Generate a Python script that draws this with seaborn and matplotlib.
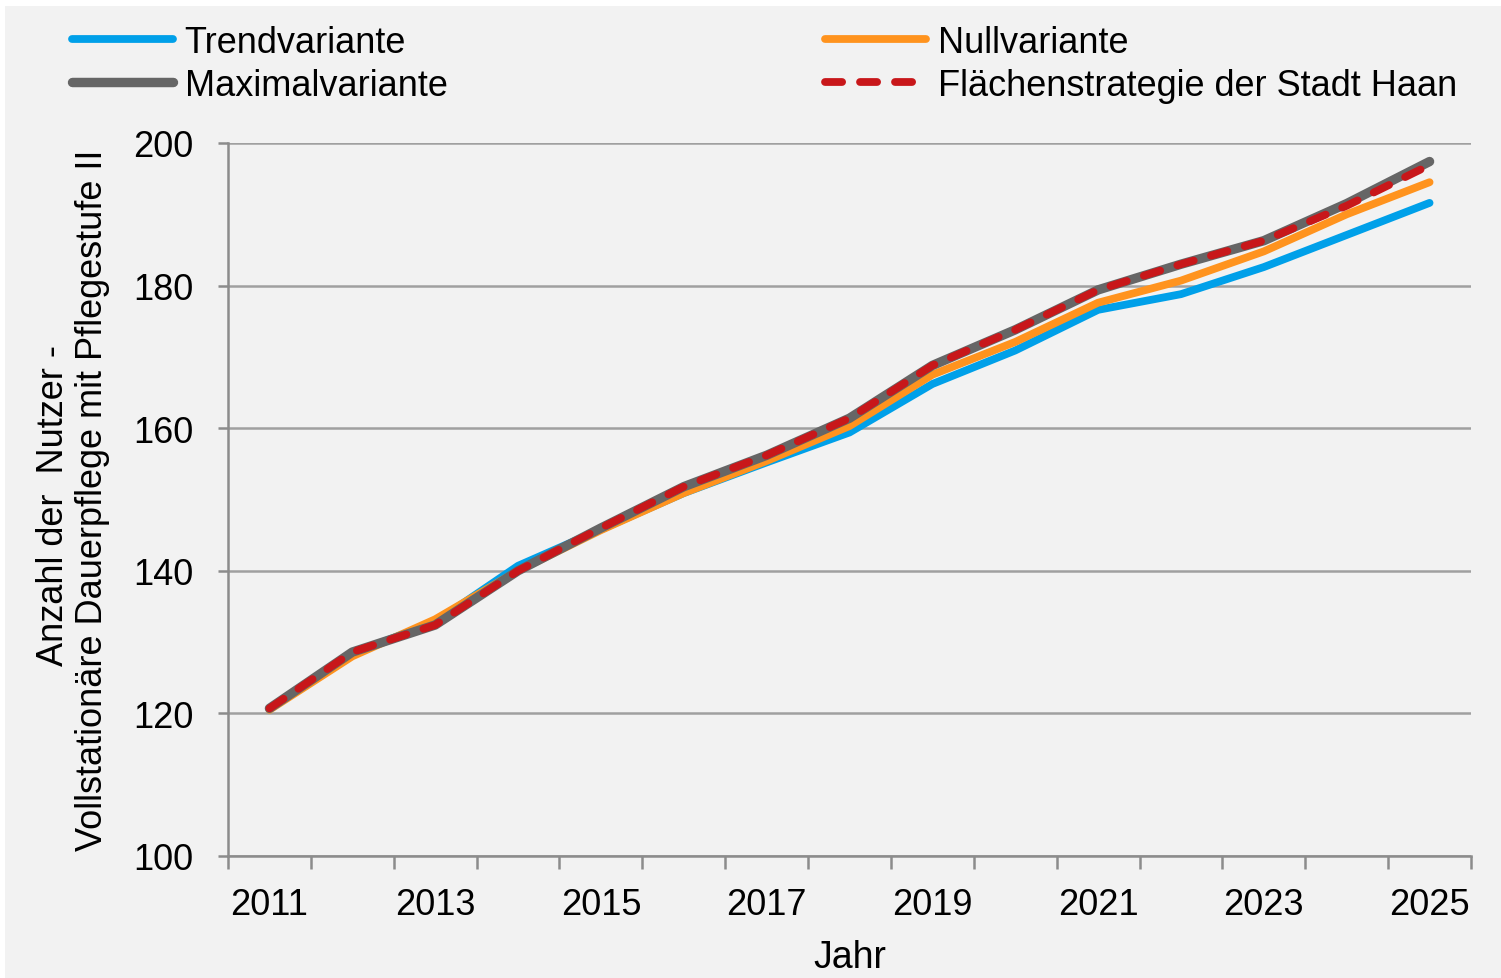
import numpy as np
import pandas as pd
import matplotlib
matplotlib.use("Agg")
import matplotlib.pyplot as plt
from matplotlib.patches import Rectangle
from matplotlib.ticker import FixedLocator
import seaborn as sns

# data
years = list(range(2011, 2026))
trend = [120.7, 128.4, 132.8, 140.7, 145.8, 150.9, 155.2, 159.4, 166.2, 170.9,
         176.6, 178.8, 182.6, 187.1, 191.6]
null = [120.5, 128.0, 133.2, 140.0, 145.7, 150.9, 155.4, 160.3, 167.5, 172.1,
        177.6, 180.7, 184.8, 190.0, 194.5]
maximal = [120.7, 128.6, 132.4, 140.0, 146.0, 151.8, 156.2, 161.4, 168.8, 173.8,
           179.4, 183.0, 186.3, 191.5, 197.4]
flaeche = [120.7, 128.6, 132.4, 140.0, 146.0, 151.8, 156.2, 161.4, 168.8, 173.8,
           179.4, 183.0, 186.3, 191.2, 196.9]
tick_years = [2011, 2013, 2015, 2017, 2019, 2021, 2023, 2025]

sns.set_theme(style="white")
plt.rcParams['font.family'] = ['Liberation Sans', 'DejaVu Sans']
plt.rcParams['text.color'] = 'black'
plt.rcParams['axes.labelcolor'] = 'black'
plt.rcParams['xtick.color'] = 'black'
plt.rcParams['ytick.color'] = 'black'

bg = "#F2F2F2"
fig = plt.figure(figsize=(15.01, 9.79), dpi=100, facecolor="white")
fig.patches.append(Rectangle((5 / 1501, 0), 1, 1 - 7 / 979, transform=fig.transFigure,
                             facecolor=bg, edgecolor="none", zorder=-10))
ax = fig.add_axes([228 / 1501, 1 - 857 / 979, 1243 / 1501, 713 / 979])
ax.set_facecolor(bg)

series = [
    ("Trendvariante", trend, "#00A0E9", 5.6),
    ("Nullvariante", null, "#FF931E", 5.6),
    ("Maximalvariante", maximal, "#666666", 6.8),
    ("Flächenstrategie der Stadt Haan", flaeche, "#C8171A", 5.6),
]
for name, vals, col, lw in series:
    df = pd.DataFrame({"Jahr": years, "Wert": vals})
    sns.lineplot(data=df, x="Jahr", y="Wert", ax=ax, color=col, linewidth=lw,
                 label=name, solid_capstyle="round", solid_joinstyle="round")
red = ax.lines[-1]
red.set_dashes((2.2, 2.3))
red.set_dash_capstyle("round")

ax.set_xlim(2010.5, 2025.5)
ax.set_ylim(100, 200)
ax.set_yticks(np.arange(100, 201, 20))
ax.yaxis.grid(True, color="#A0A0A0", linewidth=1.8)
ax.set_axisbelow(True)

ax.set_xticks(tick_years)
ax.set_xticklabels([str(y) for y in tick_years], family=['Liberation Sans Narrow', 'Liberation Sans'],
                   fontsize=26)
ax.xaxis.set_minor_locator(FixedLocator(np.arange(2010.5, 2026, 1.0)))
ax.tick_params(axis="x", which="major", length=0, pad=22, labelcolor="black")
ax.tick_params(axis="x", which="minor", length=9, width=1.8, color="#8C8C8C", bottom=True)
ax.tick_params(axis="y", which="major", length=7, width=1.8, color="#8C8C8C", pad=18,
               labelsize=26, left=True, labelcolor="black")

for s in ["top", "right"]:
    ax.spines[s].set_visible(False)
for s in ["left", "bottom"]:
    ax.spines[s].set_color("#8C8C8C")
    ax.spines[s].set_linewidth(1.8)

ax.set_xlabel("Jahr", fontsize=27, color="black")
ax.set_ylabel("Anzahl der  Nutzer - \nVollstationäre Dauerpflege mit Pflegestufe II",
              fontsize=26, linespacing=1.15, color="black")
ax.yaxis.set_label_coords(-0.095, 0.5)
ax.xaxis.set_label_coords(0.5, -0.117)

handles, labels = ax.get_legend_handles_labels()
order = [0, 2, 1, 3]
leg = ax.legend([handles[i] for i in order], [labels[i] for i in order], ncol=2,
                loc="upper left", bbox_to_anchor=(72 / 1501, 1 - 26 / 979),
                bbox_transform=fig.transFigure, frameon=False, fontsize=26,
                handlelength=2.8, handletextpad=0.32, columnspacing=10.45,
                labelspacing=0.21, borderpad=0, borderaxespad=0)
for t in leg.get_texts():
    t.set_color("black")

fig.savefig("out.png", dpi=100, facecolor="white")
